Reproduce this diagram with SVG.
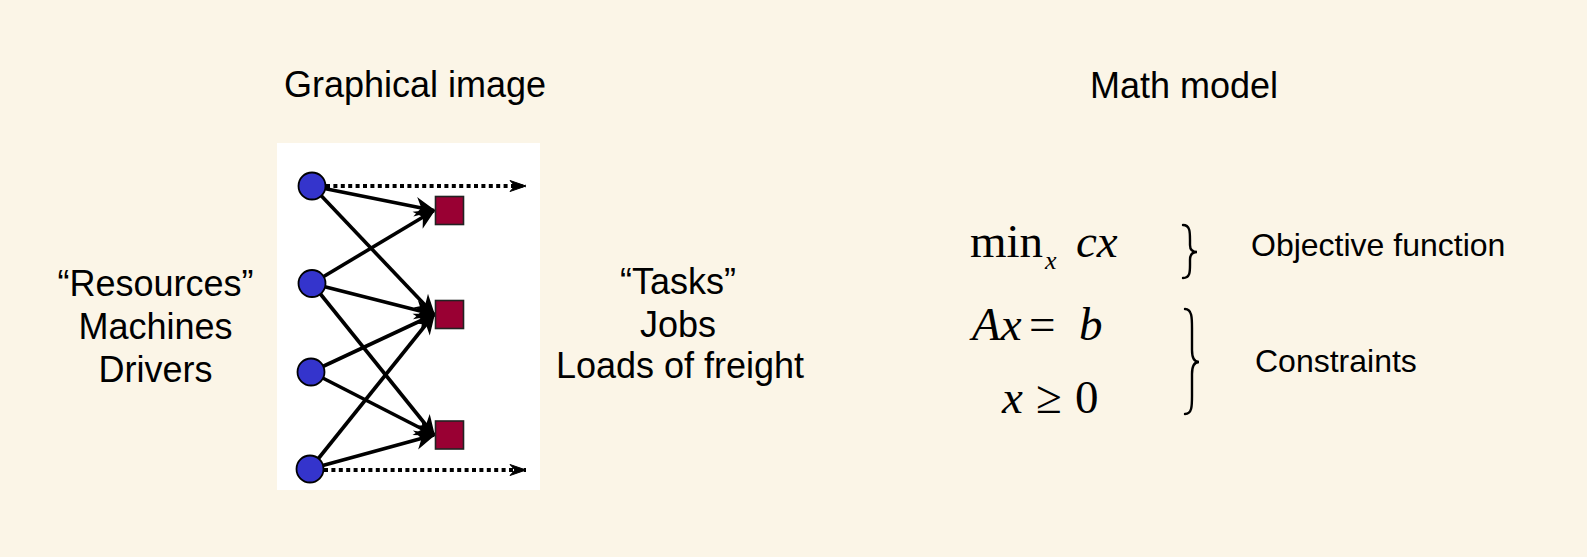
<svg xmlns="http://www.w3.org/2000/svg" width="1587" height="557" viewBox="0 0 1587 557">
  <defs>
    <style>
      .lbl { font-family: "Liberation Sans", Arial, sans-serif; font-size: 36px; fill: #000; text-anchor: middle; }
      .side { font-family: "Liberation Sans", Arial, sans-serif; font-size: 32px; fill: #000; }
      .math { font-family: "Liberation Serif", "Times New Roman", serif; font-size: 47px; fill: #000; }
      .sub { font-family: "Liberation Serif", "Times New Roman", serif; font-size: 26px; font-style: italic; fill: #000; }
      .it { font-style: italic; }
      .res { fill: #3434CC; stroke: #000; stroke-width: 1.8; }
      .task { fill: #990033; stroke: #222; stroke-width: 1.6; }
      .edge { stroke: #000; stroke-width: 3.6; fill: none; marker-end: url(#arr); }
      .dot { stroke: #000; stroke-width: 3.8; stroke-dasharray: 4 3.4; fill: none; marker-end: url(#arrd); }
      .brace { fill: none; stroke: #000; stroke-width: 2.4; stroke-linecap: round; }
    </style>
    <marker id="arr" markerUnits="userSpaceOnUse" markerWidth="24" markerHeight="22" refX="20" refY="11" orient="auto">
      <path d="M3,3 L20,11 L3,19 L8,11 z" fill="#000" stroke="#000" stroke-width="1.6" stroke-linejoin="miter"/>
    </marker>
    <marker id="arrd" markerUnits="userSpaceOnUse" markerWidth="22" markerHeight="16" refX="18" refY="8" orient="auto">
      <path d="M2,2.5 L18,8 L2,13.5 L7,8 z" fill="#000" stroke="#000" stroke-width="1"/>
    </marker>
  </defs>

  <rect width="1587" height="557" fill="#FBF5E7"/>

  <text class="lbl" x="415" y="97">Graphical image</text>
  <text class="lbl" x="1184" y="98">Math model</text>

  <g id="panel">
    <rect x="277" y="143" width="263" height="347" fill="#FFFFFF"/>
  </g>

  <g id="connectors">
    <line class="edge" x1="312" y1="186" x2="434" y2="210.5"/>
    <line class="edge" x1="312" y1="186" x2="434" y2="314.5"/>
    <line class="edge" x1="312" y1="283.5" x2="434" y2="210.5"/>
    <line class="edge" x1="312" y1="283.5" x2="434" y2="314.5"/>
    <line class="edge" x1="312" y1="283.5" x2="434" y2="435"/>
    <line class="edge" x1="311" y1="372" x2="434" y2="314.5"/>
    <line class="edge" x1="311" y1="372" x2="434" y2="435"/>
    <line class="edge" x1="310" y1="469" x2="434" y2="314.5"/>
    <line class="edge" x1="310" y1="469" x2="434" y2="435"/>
    <line class="dot" x1="326" y1="186" x2="526" y2="186"/>
    <line class="dot" x1="324" y1="470" x2="526" y2="470"/>
  </g>

  <g id="res1"><circle class="res" cx="312" cy="186" r="13.5"/></g>
  <g id="res2"><circle class="res" cx="312" cy="283.5" r="13.5"/></g>
  <g id="res3"><circle class="res" cx="311" cy="372" r="13.5"/></g>
  <g id="res4"><circle class="res" cx="310" cy="469" r="13.5"/></g>

  <g id="task1"><rect class="task" x="435.5" y="196.5" width="28" height="28"/></g>
  <g id="task2"><rect class="task" x="435.5" y="300.5" width="28" height="28"/></g>
  <g id="task3"><rect class="task" x="435.5" y="421" width="28" height="28"/></g>

  <g id="resources-label">
    <text class="lbl" x="155.5" y="296">“Resources”</text>
    <text class="lbl" x="155.5" y="339">Machines</text>
    <text class="lbl" x="155.5" y="382">Drivers</text>
  </g>

  <g id="tasks-label">
    <text class="lbl" x="678" y="294">“Tasks”</text>
    <text class="lbl" x="678" y="337">Jobs</text>
    <text class="lbl" x="680" y="378">Loads of freight</text>
  </g>

  <g id="objective">
    <text class="math" x="970" y="257">min</text>
    <text class="sub" x="1045" y="269">x</text>
    <text class="math it" x="1076" y="257">cx</text>
  </g>

  <g id="constraints">
    <text class="math it" x="972" y="340">Ax</text>
    <text class="math" x="1029" y="340">=</text>
    <text class="math it" x="1079" y="340">b</text>
    <text class="math it" x="1002" y="413">x</text>
    <text class="math" x="1036" y="413">≥</text>
    <text class="math" x="1075" y="413">0</text>
  </g>

  <g id="braces">
    <path class="brace" d="M1183,225 C1190,225 1190,232 1190,240 L1190,245 C1190,250 1192,252 1197,252 C1192,252 1190,255 1190,260 L1190,265 C1190,272 1190,278 1183,278"/>
    <path class="brace" d="M1185,309 C1192,309 1192,318 1192,328 L1192,350 C1192,358 1194,362 1199,362 C1194,362 1192,366 1192,374 L1192,396 C1192,406 1192,414 1185,414"/>
  </g>

  <text class="side" x="1251" y="256">Objective function</text>
  <text class="side" x="1255" y="372">Constraints</text>
</svg>
